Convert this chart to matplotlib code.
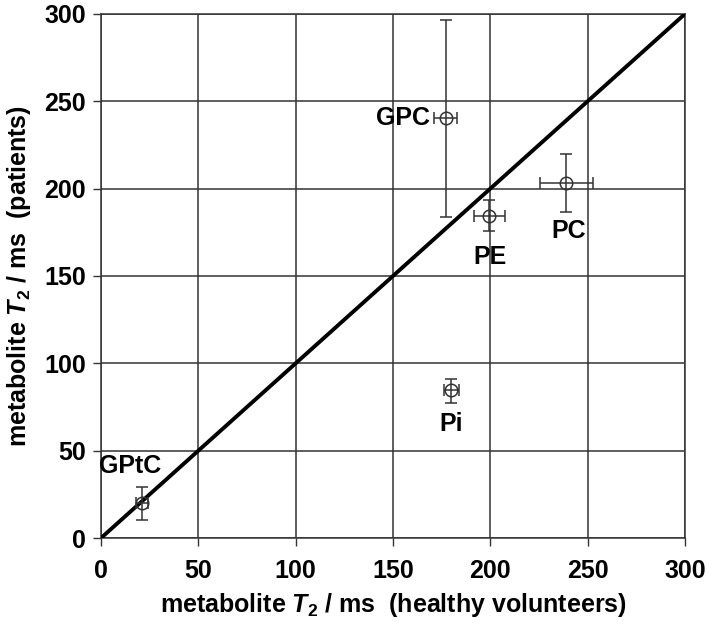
import matplotlib
matplotlib.use("Agg")
import matplotlib.pyplot as plt

plt.rcParams['font.family'] = ['Liberation Sans', 'DejaVu Sans']
plt.rcParams['font.weight'] = 'bold'
plt.rcParams['mathtext.fontset'] = 'custom'
plt.rcParams['mathtext.it'] = 'Liberation Sans:italic:bold'
plt.rcParams['mathtext.rm'] = 'Liberation Sans:bold'

# metabolite T2 values (ms)
names = ["GPC", "PE", "PC", "Pi", "GPtC"]
healthy = [177, 199.5, 239, 180, 21]
healthy_err = [6, 8, 13.7, 4, 3]
patients = [240.5, 184.3, 203.4, 84.5, 20]
patients_err_lo = [56.5, 8.5, 16.8, 7, 9.7]
patients_err_hi = [56, 9, 16.4, 6.5, 9.4]
label_pos = [(155, 240.5), (200, 161), (240.5, 176), (180, 65), (15, 41)]

ticks = [0, 50, 100, 150, 200, 250, 300]

fig = plt.figure(figsize=(7.09, 6.24), dpi=100)
ax = fig.add_axes([0.1425, 0.1378, 0.8235, 0.8398])

ax.plot([0, 300], [0, 300], color='black', lw=2.8, zorder=3)

ax.errorbar(healthy, patients, xerr=healthy_err,
            yerr=[patients_err_lo, patients_err_hi],
            fmt='o', mfc='none', mec='#333333', ms=9, mew=1.1,
            ecolor='#333333', elinewidth=1.1, capsize=4, capthick=1.1, zorder=4)

for n, (lx, ly) in zip(names, label_pos):
    ax.text(lx, ly, n, ha='center', va='center', fontsize=18, fontweight='bold')

ax.set_xlim(0, 300)
ax.set_ylim(0, 300)
ax.set_xticks(ticks)
ax.set_yticks(ticks)
ax.tick_params(labelsize=18, length=6, width=1, color='#333333')
ax.tick_params(axis='x', pad=9)
ax.tick_params(axis='y', pad=5)
ax.grid(True, color='#333333', lw=1.1)
ax.set_axisbelow(True)
for s in ax.spines.values():
    s.set_color('#333333')
    s.set_linewidth(1.1)

ax.set_xlabel(r'metabolite $T_2$ / ms  (healthy volunteers)', fontsize=18, fontweight='bold', labelpad=6)
ax.set_ylabel(r'metabolite $T_2$ / ms  (patients)', fontsize=18, fontweight='bold', labelpad=8)

fig.savefig("out.png", dpi=100)
